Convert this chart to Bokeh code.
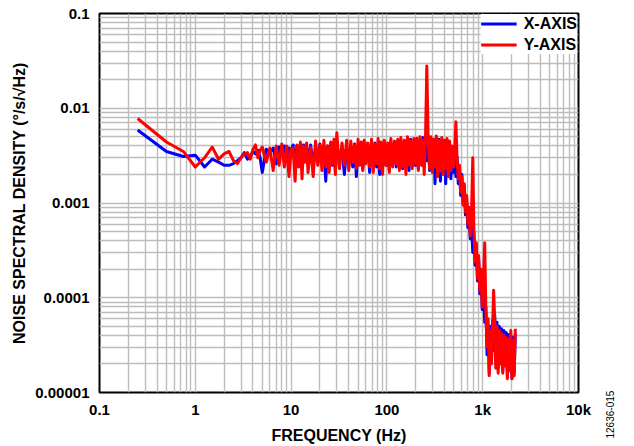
from bokeh.plotting import figure
from bokeh.layouts import row
from bokeh.models import FixedTicker, Legend, LegendItem, Title, Range1d, ColumnDataSource
from bokeh.embed import file_html
from bokeh.resources import INLINE

# ---------------- data ----------------
freq_hz = [
    0.25, 0.5, 0.75, 1.0, 1.25, 1.5, 1.75, 2.0, 2.25, 2.5,
    2.75, 3.0, 3.25, 3.5, 3.75, 4.0, 4.25, 4.5, 4.75, 5.0,
    5.5, 6.0, 6.5, 7.0, 7.5, 8.0, 8.5, 9.0, 9.5, 10.0,
    10.5, 11, 11.5, 12, 12.5, 13, 13.5, 14, 14.5, 15,
    16, 17, 18, 19, 20, 21, 22, 23, 24, 25,
    26, 27, 28, 29, 30, 32, 34, 36, 38, 40,
    42, 44, 46, 48, 50, 52, 54, 56, 58, 60,
    63, 66, 69, 72, 75, 78, 81, 84, 87, 90,
    94, 98, 102, 106, 110, 115, 120, 125, 130, 135,
    140, 146, 152, 158, 164, 170, 177, 184, 191, 198,
    205, 213, 221, 229, 237, 245, 253, 261, 270, 279,
    288, 298, 308, 318, 328, 339, 350, 362, 374, 386,
    398, 411, 424, 437, 451, 465, 480, 495,
    510, 525, 540, 556, 572, 589, 606, 624, 642, 661,
    680, 700, 720, 741, 762, 788, 810, 833, 857, 882,
    907, 933, 960, 988, 1016, 1050, 1080, 1110, 1140, 1170,
    1200, 1235, 1270, 1300, 1335, 1370, 1410, 1450, 1490, 1530,
    1575, 1620, 1665, 1710, 1760, 1810, 1860, 1910, 1965, 2020,
    2075, 2130, 2190,
]

x_axis_nsd = [
    0.0059, 0.0035, 0.0031, 0.0032, 0.0024, 0.0029, 0.0027, 0.0025, 0.0025, 0.0026,
    0.0028, 0.0030, 0.0034, 0.0029, 0.0031, 0.0035, 0.0033, 0.0036, 0.0030, 0.0021,
    0.0037, 0.0034, 0.0038, 0.0026, 0.0039, 0.0033, 0.0040, 0.0028, 0.0038, 0.0036,
    0.0041, 0.0022, 0.0040, 0.0030, 0.0042, 0.0026, 0.0041, 0.0033, 0.0040, 0.0028,
    0.0041, 0.0024, 0.0039, 0.0030, 0.0042, 0.0027, 0.0038, 0.0017, 0.0040, 0.0029,
    0.0043, 0.0025, 0.0040, 0.0022, 0.0041, 0.0028, 0.0037, 0.0020, 0.0039, 0.0026,
    0.0040, 0.0024, 0.0042, 0.0019, 0.0038, 0.0027, 0.0041, 0.0023, 0.0039, 0.0028,
    0.0042, 0.0021, 0.0040, 0.0026, 0.0043, 0.0024, 0.0039, 0.0020, 0.0041, 0.0027,
    0.0043, 0.0025, 0.0040, 0.0022, 0.0044, 0.0028, 0.0041, 0.0024, 0.0045, 0.0026,
    0.0042, 0.0023, 0.0046, 0.0027, 0.0043, 0.0022, 0.0047, 0.0026, 0.0044, 0.0025,
    0.0048, 0.0023, 0.0045, 0.0027, 0.0049, 0.0024, 0.0046, 0.0028, 0.0047, 0.0022,
    0.0048, 0.0025, 0.0046, 0.0016, 0.0049, 0.0023, 0.0047, 0.0017, 0.0045, 0.0021,
    0.0044, 0.0016, 0.0043, 0.0020, 0.0041, 0.0018, 0.0033, 0.0021,
    0.0036, 0.0019, 0.0031, 0.0016, 0.0024, 0.0012, 0.0020, 0.0010, 0.0015, 0.00075,
    0.0011, 0.00055, 0.00085, 0.00042, 0.00065, 0.00030, 0.00048, 0.00022, 0.00036, 0.00015,
    0.00026, 0.00011, 0.00019, 0.000075, 0.00013, 0.000055, 0.00008, 0.000025, 0.00005, 0.000016,
    0.00005, 0.000022, 0.000058, 0.000028, 0.000065, 0.00002, 0.000055, 0.000018, 0.00005, 0.000022,
    0.000047, 0.000017, 0.000045, 0.000021, 0.000043, 0.000015, 0.000041, 0.000019, 0.00004, 0.000014,
    0.000038, 0.000016, 0.000042,
]

y_axis_nsd = [
    0.0078, 0.0044, 0.0035, 0.0024, 0.0030, 0.0039, 0.0029, 0.0033, 0.0035, 0.0028,
    0.0026, 0.0030, 0.0033, 0.0034, 0.0029, 0.0037, 0.0041, 0.0030, 0.0036, 0.0039,
    0.0027, 0.0038, 0.0022, 0.0040, 0.0025, 0.0042, 0.0024, 0.0040, 0.0019, 0.0037,
    0.0038, 0.0017, 0.0041, 0.0024, 0.0044, 0.0018, 0.0040, 0.0027, 0.0043, 0.0021,
    0.0039, 0.0019, 0.0045, 0.0025, 0.0041, 0.0022, 0.0046, 0.0024, 0.0040, 0.0021,
    0.0044, 0.0026, 0.0047, 0.0020, 0.0055, 0.0023, 0.0043, 0.0025, 0.0046, 0.0022,
    0.0045, 0.0027, 0.0041, 0.0023, 0.0047, 0.0025, 0.0044, 0.0022, 0.0046, 0.0026,
    0.0043, 0.0024, 0.0047, 0.0021, 0.0042, 0.0026, 0.0048, 0.0023, 0.0044, 0.0020,
    0.0046, 0.0025, 0.0043, 0.0021, 0.0048, 0.0024, 0.0045, 0.0026, 0.0047, 0.0022,
    0.0049, 0.0024, 0.0046, 0.0020, 0.0050, 0.0025, 0.0045, 0.0023, 0.0048, 0.0026,
    0.0047, 0.0022, 0.0050, 0.0025, 0.0046, 0.0020, 0.0049, 0.0280, 0.0045, 0.0023,
    0.0050, 0.0021, 0.0047, 0.0024, 0.0051, 0.0019, 0.0046, 0.0022, 0.0049, 0.0020,
    0.0046, 0.0023, 0.0048, 0.0019, 0.0045, 0.0022, 0.0040, 0.0024,
    0.0033, 0.0072, 0.0029, 0.0018, 0.0025, 0.0013, 0.0019, 0.00095, 0.0016, 0.0008,
    0.0012, 0.0006, 0.0009, 0.00045, 0.0007, 0.0030, 0.0005, 0.00024, 0.00038, 0.00016,
    0.00028, 0.00012, 0.0002, 0.00008, 0.00014, 0.00038, 0.00007, 0.00003, 0.00006, 0.000015,
    0.000045, 0.00002, 0.00005, 0.00012, 0.00006, 0.000018, 0.00005, 0.000016, 0.000045, 0.00002,
    0.000042, 0.000016, 0.00004, 0.000019, 0.000038, 0.000014, 0.000036, 0.000017, 0.000045, 0.000014,
    0.000035, 0.000015, 0.000047,
]

series_names = ["X-AXIS", "Y-AXIS"]
x_ticks = [0.1, 1, 10, 100, 1000, 10000]
x_tick_labels = ["0.1", "1", "10", "100", "1k", "10k"]
y_ticks = [0.00001, 0.0001, 0.001, 0.01, 0.1]
y_tick_labels = ["0.00001", "0.0001", "0.001", "0.01", "0.1"]
x_title = "FREQUENCY (Hz)"
y_title = "NOISE SPECTRAL DENSITY (°/s/√Hz)"
figure_id = "12636-015"

# ---------------- main figure ----------------
FONT = "Liberation Sans"
W, H = 603, 446

p = figure(
    width=W, height=H,
    x_axis_type="log", y_axis_type="log",
    x_range=Range1d(0.1, 10000), y_range=Range1d(0.00001, 0.1),
    output_backend="svg", toolbar_location=None,
    min_border_left=99, min_border_right=25, min_border_top=13, min_border_bottom=52,
)
p.background_fill_color = "white"
p.border_fill_color = "white"
p.outline_line_color = "black"
p.outline_line_width = 2

x_minor = [m * t for t in x_ticks[:-1] for m in range(2, 10)]
y_minor = [m * t for t in y_ticks[:-1] for m in range(2, 10)]
p.xaxis.ticker = FixedTicker(ticks=x_ticks, minor_ticks=x_minor)
p.yaxis.ticker = FixedTicker(ticks=y_ticks, minor_ticks=y_minor)
p.xaxis.major_label_overrides = dict(zip(x_ticks, x_tick_labels))
p.yaxis.major_label_overrides = dict(zip(y_ticks, y_tick_labels))

for ax in (p.xaxis, p.yaxis):
    ax.axis_line_color = None
    ax.major_tick_out = 0
    ax.major_tick_in = 0
    ax.minor_tick_out = 0
    ax.minor_tick_in = 0
    ax.major_label_text_font = FONT
    ax.major_label_text_font_style = "bold"
    ax.major_label_text_font_size = "15px"
    ax.major_label_text_color = "black"
    ax.axis_label_text_font = FONT
    ax.axis_label_text_font_style = "bold"
    ax.axis_label_text_font_size = "16px"
    ax.axis_label_text_color = "black"

p.xaxis.axis_label = x_title
p.yaxis.axis_label = y_title
p.xaxis.major_label_standoff = 8
p.xaxis.axis_label_standoff = 6
p.yaxis.major_label_standoff = 10
p.yaxis.axis_label_standoff = 4

for g in (p.xgrid, p.ygrid):
    g.grid_line_color = "#bdbdbd"
    g.grid_line_width = 1.4
    g.minor_grid_line_color = "#bdbdbd"
    g.minor_grid_line_width = 1.4

src = ColumnDataSource(dict(f=freq_hz, xa=x_axis_nsd, ya=y_axis_nsd))
rb = p.line("f", "xa", source=src, line_color="#0000ff", line_width=3, line_join="round")
rr = p.line("f", "ya", source=src, line_color="#ff0000", line_width=3, line_join="round")

legend = Legend(
    items=[LegendItem(label=series_names[0], renderers=[rb]),
           LegendItem(label=series_names[1], renderers=[rr])],
    location="top_right",
    margin=1, padding=6, spacing=2,
    glyph_width=36, glyph_height=19, label_height=19, label_standoff=7,
    label_text_font=FONT, label_text_font_style="bold", label_text_font_size="16px",
    label_text_color="black",
    border_line_color=None, background_fill_color="white", background_fill_alpha=1.0,
)
p.add_layout(legend)

# ---------------- narrow strip holding the vertical figure number ----------------
SW = 634 - W
q = figure(
    width=SW, height=H, x_range=Range1d(0, 1), y_range=Range1d(0, 1),
    x_axis_location=None, y_axis_location=None,
    output_backend="svg", toolbar_location=None,
    min_border_left=0, min_border_right=0, min_border_top=0, min_border_bottom=0,
)
q.grid.visible = False
q.outline_line_color = None
q.background_fill_color = "white"
q.border_fill_color = "white"
q.add_layout(Title(
    text=figure_id, align="left", offset=-46, standoff=0,
    text_font=FONT, text_font_size="10px", text_font_style="normal", text_color="black",
), "left")

open("out.html", "w").write(file_html(row(p, q), INLINE))
